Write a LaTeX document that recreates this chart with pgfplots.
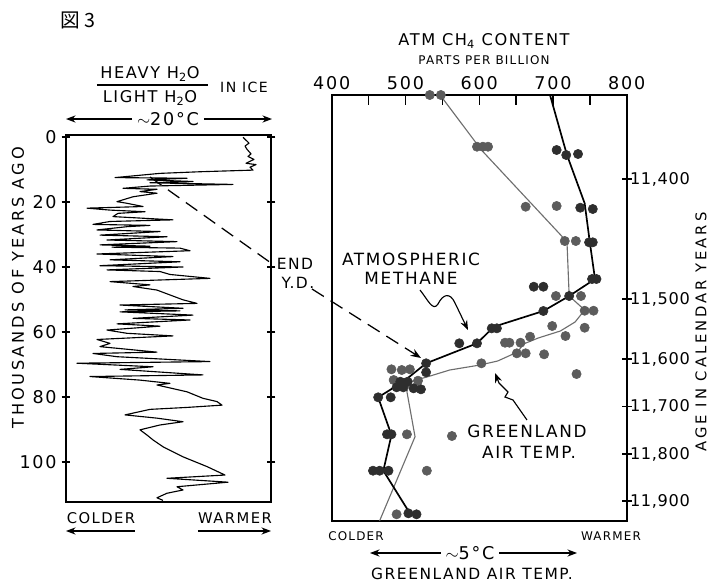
\documentclass[border=0pt]{standalone}
\usepackage{fontspec}
\setmainfont[LetterSpace=10]{DejaVu Sans}
\newfontfamily\cjk{Noto Sans CJK JP}
\usepackage{pgfplots}
\pgfplotsset{compat=1.18}
\usepackage{pgfplotstable}
\usetikzlibrary{arrows.meta}

\definecolor{ch4dot}{HTML}{2E2E2E}
\definecolor{tdot}{HTML}{5C5C5C}
\definecolor{tline}{HTML}{6E6E6E}

% ice core isotope trace (x: relative position across panel, y: thousands of years ago)
\pgfplotstableread{
x y
243 0.1
249 1.9
245 2.8
247 3.8
251 5.2
248 6.0
254 6.9
246 8.1
256 8.5
250 9.3
253 10.2
200 10.7
160 11.2
115 12.5
187 12.7
147 13.2
193 13.7
150 14.1
233 14.6
150 15.1
123 15.8
157 16.1
140 16.8
157 17.3
133 18.4
117 19.9
127 20.4
143 21.4
87 21.9
110 22.5
145 23.0
118 23.5
113 24.5
173 25.5
110 26.0
93 26.9
150 27.2
127 27.6
97 28.6
160 29.1
100 30.2
167 30.7
107 31.7
177 32.2
100 33.2
150 33.6
112 33.9
180 34.2
190 35.0
97 36.0
173 36.8
110 37.8
180 38.4
100 39.6
183 40.0
107 40.9
160 41.4
170 42.3
210 43.5
110 44.5
150 45.5
133 46.0
157 47.1
170 48.6
183 50.1
197 51.2
120 51.7
183 52.7
125 53.2
180 53.5
120 53.8
193 54.8
133 55.8
190 56.3
117 57.5
160 58.2
107 59.4
127 60.4
173 61.2
97 62.3
110 63.5
100 64.5
157 66.2
93 66.6
117 67.6
210 69.1
77 69.6
153 70.7
120 71.5
203 73.2
90 73.7
140 74.8
170 75.8
157 76.3
187 78.4
203 80.4
217 81.4
222 82.5
187 83.2
150 83.8
125 85.5
157 86.5
183 87.6
160 88.6
140 90.1
147 91.7
153 93.2
163 95.3
183 98.4
207 101.4
225 104.0
167 105.0
228 106.2
177 107.6
183 108.6
167 109.6
157 111.0
163 111.8
}\icecore

% methane samples (ppb, depth position)
\pgfplotstableread{
x y
705 150
718 155
734 154
737 207.7
754 209
749 242.3
754 242.3
753 279
759 279
674 286.7
687 286.7
722 296
687 311
617 328.3
624 328.3
573 343.3
597 343.3
528 363.3
528 372.3
488 387.3
497 387.3
493 381.7
503 381.7
511 388.3
521 389.3
463 397.3
480 397.3
475 434.3
481 434.3
456 470.7
465 470.7
477 470.7
504 513.3
515 514.3
}\chfourdots

\pgfplotstableread{
x y
696 95
719 155
743 203.3
750 242.3
757 279
722 296
687 311
620 326.7
597 343.3
528 363.3
497 381.7
463 397.3
481 435
470 470.7
506 513.3
}\chfourline

% Greenland temperature samples (same horizontal scale, arbitrary units)
\pgfplotstableread{
x y
533 95
548 95
597 146.7
605 146.7
612 146.7
663 206.7
705 206
716 241
731 241
704 296
738 296
743 310.7
755 310.7
699 326
743 327.7
669 336.7
717 336
635 342.7
641 342.7
656 342.7
651 353.3
663 353.3
688 354.3
603 363.3
732 374
481 369.3
495 370
506 369.3
484 380
517 380.7
502 434.3
563 436
529 470.7
488 514.3
}\tempdots

\pgfplotstableread{
x y
547 95
603 150
719 241.7
722 296
743 310
730 322
710 331
680 338
660 344
652 352
625 361
601 365
560 370
529 377
506 381.7
502 391.7
513 436.7
465 520.7
}\templine

\begin{document}
\begin{tikzpicture}
\path[use as bounding box] (0,0) rectangle (177mm,-146mm);

\begin{axis}[
    name=ice,
    at={(16.5mm,-33.75mm)}, anchor=north west,
    scale only axis, width=51.25mm, height=91.75mm,
    xmin=66, xmax=271, ymin=-0.6, ymax=112.3, y dir=reverse,
    xtick=\empty, ytick={0,20,40,60,80,100},
    tick align=center, major tick length=2.2mm,
    tick style={line width=1pt, black},
    axis line style={line width=1.4pt},
    yticklabel style={font=\fontsize{12.5}{12.5}\selectfont},
    /pgf/number format/assume math mode=true,
]
\addplot[black, line width=0.8pt, line join=round] table[x=x,y=y] {\icecore};
\end{axis}

\begin{axis}[
    name=ch4,
    at={(82.925mm,-23.75mm)}, anchor=north west,
    scale only axis, width=73.75mm, height=106.425mm,
    xmin=400, xmax=800, ymin=95, ymax=520.7, y dir=reverse,
    xtick={400,450,...,800}, xticklabels={400,,500,,600,,700,,800},
    xtick pos=right, xticklabel pos=right,
    ytick={179,299,359,406.5,454,501},
    yticklabels={{11,400},{11,500},{11,600},{11,700},{11,800},{11,900}},
    ytick pos=right, yticklabel pos=right,
    xtick align=inside, ytick align=center,
    major tick length=2.4mm,
    tick style={line width=1pt, black},
    axis line style={line width=1.4pt},
    xticklabel style={font=\fontsize{12.5}{12.5}\selectfont},
    yticklabel style={font=\fontsize{11.5}{11.5}\selectfont\addfontfeature{LetterSpace=4}, xshift=-1.6mm},
    /pgf/number format/assume math mode=true,
    clip=false,
]
\addplot[tline, line width=0.8pt] table[x=x,y=y] {\templine};
\addplot[black, line width=1.2pt] table[x=x,y=y] {\chfourline};
\addplot[only marks, mark=*, mark size=3.3pt, mark options={fill=tdot, draw=tdot}] table[x=x,y=y] {\tempdots};
\addplot[only marks, mark=*, mark size=3.3pt, mark options={fill=ch4dot, draw=ch4dot}] table[x=x,y=y] {\chfourdots};
\end{axis}

\begin{scope}[x=0.25mm, y=-0.25mm]
  \node[font=\cjk\fontsize{14}{14}\selectfont] at (78,20) {図 3};
  % left panel headings
  \node[font=\fontsize{11.5}{11.5}\selectfont] at (150,74) {HEAVY H\textsubscript{2}O};
  \draw[line width=0.9pt] (97,85) -- (208,85);
  \node[font=\fontsize{11.5}{11.5}\selectfont] at (150,98) {LIGHT H\textsubscript{2}O};
  \node[font=\fontsize{10}{10}\selectfont] at (244,87) {IN ICE};
  \node[font=\fontsize{12.5}{12.5}\selectfont] (t20) at (168,119) {$\sim$20°C};
  \draw[-{Stealth[length=2.4mm]}, line width=0.9pt] (t20.west) -- (66,119);
  \draw[-{Stealth[length=2.4mm]}, line width=0.9pt] (t20.east) -- (272,119);
  \node[rotate=90, font=\fontsize{11.5}{11.5}\selectfont\addfontfeature{LetterSpace=18}] at (18,288) {THOUSANDS OF YEARS AGO};
  \node[font=\fontsize{10.5}{10.5}\selectfont] at (101,518) {COLDER};
  \node[font=\fontsize{10.5}{10.5}\selectfont] at (235,518) {WARMER};
  \draw[-{Stealth[length=2.4mm]}, line width=0.9pt] (135,531) -- (66,531);
  \draw[-{Stealth[length=2.4mm]}, line width=0.9pt] (198,531) -- (271,531);
  % right panel headings
  \node[font=\fontsize{11.5}{11.5}\selectfont] at (484,41) {ATM CH\textsubscript{4} CONTENT};
  \node[font=\fontsize{8.5}{8.5}\selectfont] at (484,60) {PARTS PER BILLION};
  \node[rotate=90, font=\fontsize{10.5}{10.5}\selectfont\addfontfeature{LetterSpace=20}] at (701,332) {AGE IN CALENDAR YEARS};
  \node[font=\fontsize{8.5}{8.5}\selectfont] at (356,536) {COLDER};
  \node[font=\fontsize{8.5}{8.5}\selectfont] at (611,536) {WARMER};
  \node[font=\fontsize{12.5}{12.5}\selectfont] (t5) at (470,553) {$\sim$5°C};
  \draw[-{Stealth[length=2.4mm]}, line width=0.9pt] (t5.west) -- (370,553);
  \draw[-{Stealth[length=2.4mm]}, line width=0.9pt] (t5.east) -- (577,553);
  \node[font=\fontsize{11}{11}\selectfont] at (472,574) {GREENLAND AIR TEMP.};
  % Younger Dryas connector
  \draw[line width=0.9pt, dash pattern=on 3.5mm off 2mm] (150,177) -- (271,263);
  \node[font=\fontsize{11}{11}\selectfont] at (295,264) {END};
  \node[font=\fontsize{11}{11}\selectfont] at (298,283) {Y.D.};
  \draw[line width=0.9pt, dash pattern=on 3.5mm off 2mm, -{Stealth[length=2.6mm]}] (312,289) -- (421,358);
  % in-panel labels
  \node[font=\fontsize{12}{12}\selectfont] at (411,259) {ATMOSPHERIC};
  \node[font=\fontsize{12}{12}\selectfont] at (411,278) {METHANE};
  \draw[line width=0.8pt, -{Stealth[length=2.4mm]}] (420,290) .. controls (428,300) and (433,312) .. (438,304)
      .. controls (443,294) and (450,292) .. (455,303) -- (468,330);
  \node[font=\fontsize{12}{12}\selectfont] at (527,431) {GREENLAND};
  \node[font=\fontsize{12}{12}\selectfont] at (529,452) {AIR TEMP.};
  \draw[line width=0.8pt, -{Stealth[length=2.4mm]}] (527,420) -- (513,400) -- (505,397) -- (508,392) -- (499,383) -- (495,373);
\end{scope}
\end{tikzpicture}
\end{document}
